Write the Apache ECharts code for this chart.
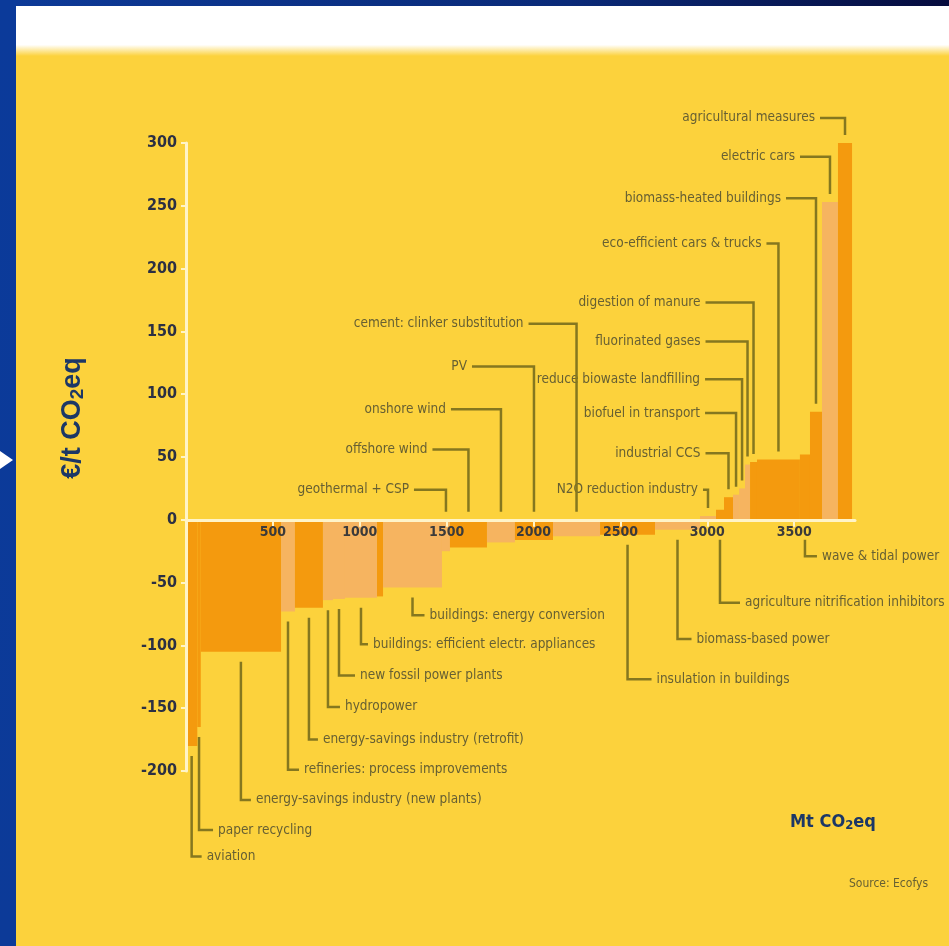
<!DOCTYPE html>
<html>
<head>
<meta charset="utf-8">
<script src="https://cdn.jsdelivr.net/npm/echarts@6/dist/echarts.min.js"></script>
<style>
  html, body { margin: 0; padding: 0; background: #ffffff; }
  #chart { width: 949px; height: 946px; }
</style>
</head>
<body>
<div id="chart"></div>
<script>
// Abatement measures, ordered by cost (marginal abatement cost curve)
const measures = [
  'aviation', 'paper recycling', 'energy-savings industry (new plants)',
  'refineries: process improvements', 'energy-savings industry (retrofit)',
  'hydropower', 'new fossil power plants', 'buildings: efficient electr. appliances',
  'other measures', 'buildings: energy conversion', 'geothermal + CSP',
  'offshore wind', 'onshore wind', 'PV', 'cement: clinker substitution',
  'insulation in buildings', 'biomass-based power', 'N2O reduction industry',
  'agriculture nitrification inhibitors', 'industrial CCS', 'biofuel in transport',
  'reduce biowaste landfilling', 'fluorinated gases', 'digestion of manure',
  'eco-efficient cars & trucks', 'wave & tidal power', 'biomass-heated buildings',
  'electric cars', 'agricultural measures'
];
// Abatement potential per measure, Mt CO2eq
const volumesMt = [
  65, 20, 462, 80, 161, 58, 69, 184, 35, 339, 46, 213, 161, 219, 271,
  316, 259, 92, 46, 52, 35, 34, 29, 40, 247, 58, 69, 92, 81
];
// Abatement cost per measure, EUR per tonne CO2eq
const costsEur = [
  -180, -165, -105, -73, -70, -64, -63, -62, -61, -54, -25, -22, -18, -16, -13,
  -12, -8, 3, 8, 18, 20, 25, 44, 46, 48, 52, 86, 253, 300
];
const xTickLabels = ['500', '1000', '1500', '2000', '2500', '3000', '3500'];
const yTickLabels = ['-200', '-150', '-100', '-50', '0', '50', '100', '150', '200', '250', '300'];

// ---- styling ----
const YELLOW = '#FCD23C';
const DARK = '#F49A0E';
const LIGHT = '#F6B460';
const INK = '#676033';
const LEADER = '#85771f';
const AXIS = '#FFF4C8';
const NAVY = '#1c3766';
const NARROW = '"Liberation Sans Narrow", "DejaVu Sans Condensed", "Roboto Condensed", "Liberation Sans", sans-serif';
// tone per measure: d = dark orange, l = light orange
const tones = 'dddldllldlldldldllddlllddddld'.split('');

// callouts: [measure, label level (EUR/t), hook length px]
const calloutsAbove = [
  ['agricultural measures', 320, 25],
  ['electric cars', 289, 30],
  ['biomass-heated buildings', 256, 30],
  ['eco-efficient cars & trucks', 220, 12],
  ['digestion of manure', 173, 48],
  ['fluorinated gases', 142, 42],
  ['reduce biowaste landfilling', 112, 37],
  ['biofuel in transport', 85, 31],
  ['industrial CCS', 53, 23],
  ['N2O reduction industry', 24, 5],
  ['cement: clinker substitution', 156, 48],
  ['PV', 122, 62],
  ['onshore wind', 88, 50],
  ['offshore wind', 56, 36],
  ['geothermal + CSP', 24, 32]
];
const calloutsBelow = [
  ['aviation', -268, 10],
  ['paper recycling', -247, 14],
  ['energy-savings industry (new plants)', -223, 10],
  ['refineries: process improvements', -199, 11],
  ['energy-savings industry (retrofit)', -175, 9],
  ['hydropower', -149, 12],
  ['new fossil power plants', -124, 16],
  ['buildings: efficient electr. appliances', -99, 7],
  ['buildings: energy conversion', -76, 12],
  ['insulation in buildings', -127, 24],
  ['biomass-based power', -95, 14],
  ['agriculture nitrification inhibitors', -66, 20],
  ['wave & tidal power', -29, 12]
];

// cumulative start of each block on the volume axis
const starts = [];
volumesMt.reduce((acc, w, i) => { starts[i] = acc; return acc + w; }, 0);
const barData = measures.map((m, i) => [starts[i], starts[i] + volumesMt[i], costsEur[i], i]);

const calloutData = calloutsAbove.map(c => [measures.indexOf(c[0]), c[1], c[2], 1])
  .concat(calloutsBelow.map(c => [measures.indexOf(c[0]), c[1], c[2], -1]));

const chart = echarts.init(document.getElementById('chart'), null, { renderer: 'canvas' });

function renderBlock(params, api) {
  const a = api.coord([api.value(0), 0]);
  const b = api.coord([api.value(1), api.value(2)]);
  const i = api.value(3);
  return {
    type: 'rect',
    shape: { x: a[0], y: Math.min(a[1], b[1]), width: b[0] - a[0], height: Math.abs(b[1] - a[1]) },
    style: { fill: tones[i] === 'd' ? DARK : LIGHT }
  };
}

function renderCallout(params, api) {
  const i = api.value(0);
  const level = api.value(1);
  const hook = api.value(2);
  const side = api.value(3);
  const mid = starts[i] + volumesMt[i] / 2;
  const cost = costsEur[i];
  const p = api.coord([mid, level]);
  const x = p[0], yl = p[1];
  const zeroY = api.coord([mid, 0])[1];
  const barY = api.coord([mid, cost])[1];
  let pts, text;
  if (side > 0) {
    const yEnd = Math.min(zeroY, barY) - 8;
    pts = [[x - hook, yl], [x, yl], [x, yEnd]];
    text = { type: 'text', style: { x: x - hook - 5, y: yl, text: measures[i], textAlign: 'right', textVerticalAlign: 'middle', font: '13.5px ' + NARROW, fill: INK } };
  } else {
    const yStart = Math.max(zeroY, barY) + (cost > 0 ? 20 : 10);
    pts = [[x, yStart], [x, yl], [x + hook, yl]];
    text = { type: 'text', style: { x: x + hook + 5, y: yl, text: measures[i], textAlign: 'left', textVerticalAlign: 'middle', font: '13.5px ' + NARROW, fill: INK } };
  }
  return {
    type: 'group',
    children: [
      { type: 'polyline', shape: { points: pts }, style: { stroke: LEADER, lineWidth: 2.5, fill: null } },
      text
    ]
  };
}

const GRID_TOP = 143, GRID_BOTTOM = 175, Y_MIN = -200, Y_MAX = 300;
const plotHeight = 946 - GRID_TOP - GRID_BOTTOM;
// lift the volume axis from the bottom edge up to the zero line
const zeroOffset = -plotHeight * (0 - Y_MIN) / (Y_MAX - Y_MIN);

const option = {
  animation: false,
  backgroundColor: '#ffffff',
  graphic: [
    { type: 'rect', z: -10, shape: { x: 0, y: 0, width: 949, height: 946 }, style: { fill: YELLOW } },
    { type: 'rect', z: -9, shape: { x: 0, y: 0, width: 949, height: 56 },
      style: { fill: new echarts.graphic.LinearGradient(0, 0, 0, 1, [
        { offset: 0, color: '#ffffff' }, { offset: 0.8, color: '#ffffff' }, { offset: 1, color: YELLOW }]) } },
    { type: 'rect', z: -8, shape: { x: 0, y: 0, width: 949, height: 6 },
      style: { fill: new echarts.graphic.LinearGradient(0, 0, 1, 0, [
        { offset: 0, color: '#0d3a98' }, { offset: 0.6, color: '#0a2a78' }, { offset: 1, color: '#060c3e' }]) } },
    { type: 'rect', z: -8, shape: { x: 0, y: 0, width: 16, height: 946 },
      style: { fill: new echarts.graphic.LinearGradient(0, 0, 0, 1, [
        { offset: 0, color: '#0b3a9a' }, { offset: 1, color: '#0c3a98' }]) } },
    { type: 'polygon', z: -7, shape: { points: [[0, 451], [13, 460], [0, 469]] }, style: { fill: '#ffffff' } },
    { type: 'text', x: 73, y: 418, rotation: Math.PI / 2,
      style: { text: '{a|€/t CO}{s|2}{a|eq}', textAlign: 'center', textVerticalAlign: 'middle',
        rich: {
          a: { font: 'bold 27px "Liberation Sans", sans-serif', fill: NAVY },
          s: { font: 'bold 19px "Liberation Sans", sans-serif', fill: NAVY, padding: [10, 0, 0, 0] }
        } } },
    { type: 'text', x: 790, y: 822,
      style: { text: '{a|Mt CO}{s|2}{a|eq}', textVerticalAlign: 'middle',
        rich: {
          a: { font: 'bold 18px ' + NARROW, fill: NAVY },
          s: { font: 'bold 13px ' + NARROW, fill: NAVY, padding: [7, 0, 0, 0] }
        } } },
    { type: 'text', x: 928, y: 884,
      style: { text: 'Source: Ecofys', textAlign: 'right', textVerticalAlign: 'middle', font: '12px ' + NARROW, fill: INK } }
  ],
  grid: { left: 186, right: 94, top: GRID_TOP, bottom: GRID_BOTTOM, containLabel: false },
  xAxis: {
    type: 'value', min: 0, max: 3850, interval: 500,
    position: 'bottom', offset: zeroOffset, z: 10,
    axisLine: { onZero: false, lineStyle: { color: AXIS, width: 3 } },
    axisTick: { show: true, inside: false, length: 7, lineStyle: { color: AXIS, width: 2 } },
    axisLabel: {
      margin: 6, color: '#3b3a3a', fontFamily: NARROW, fontWeight: 'bold', fontSize: 14,
      showMaxLabel: false, showMinLabel: false,
      formatter: v => xTickLabels.indexOf(String(v)) >= 0 ? String(v) : ''
    },
    splitLine: { show: false }
  },
  yAxis: {
    type: 'value', min: Y_MIN, max: Y_MAX, interval: 50, z: 10,
    axisLine: { show: true, onZero: false, lineStyle: { color: AXIS, width: 3 } },
    axisTick: { show: true, length: 5, lineStyle: { color: AXIS, width: 2 } },
    axisLabel: {
      margin: 9, color: '#2c3043', fontFamily: NARROW, fontWeight: 'bold', fontSize: 16,
      formatter: v => yTickLabels.indexOf(String(v)) >= 0 ? String(v) : ''
    },
    splitLine: { show: false }
  },
  series: [
    {
      type: 'custom', name: 'abatement', renderItem: renderBlock, data: barData,
      encode: { x: [0, 1], y: 2 }, z: 2
    },
    {
      type: 'custom', name: 'callouts', renderItem: renderCallout, data: calloutData,
      encode: { x: 0, y: 1 }, clip: false, z: 3, silent: true
    }
  ]
};
chart.setOption(option);
</script>
</body>
</html>
